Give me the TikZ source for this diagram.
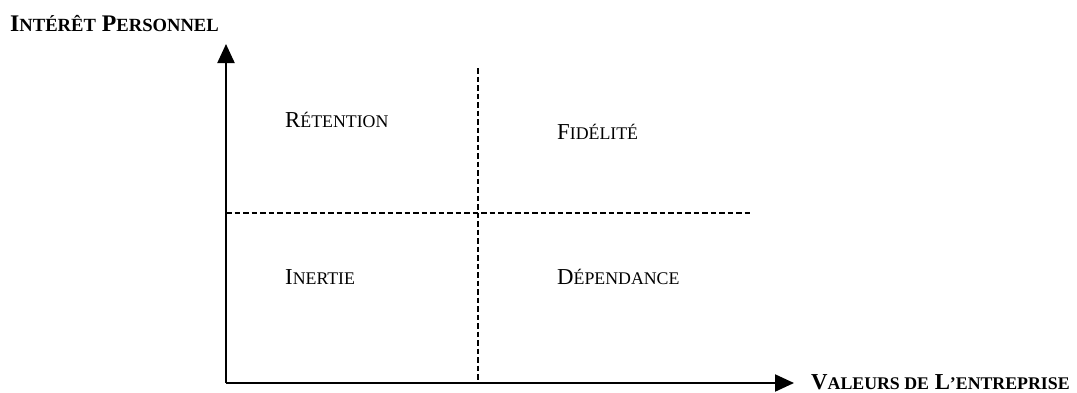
\documentclass[tikz,border=0pt]{standalone}
\usepackage{fontspec}
\setmainfont{Liberation Serif}
\usetikzlibrary{arrows.meta}
\newcommand\smc[1]{{\fontsize{17.8}{20}\selectfont #1}}
\newcommand\smcb[1]{{\fontsize{18.6}{20}\selectfont #1}}
\tikzset{
  axis/.style={line width=2.2pt,-{Triangle[length=19pt,width=17pt]}},
  divider/.style={line width=1.8pt,dash pattern=on 5.5pt off 3pt},
  quad/.style={anchor=base west,inner sep=0pt,font=\fontsize{22.8}{26}\selectfont},
  axlabel/.style={anchor=base west,inner sep=0pt,font=\fontsize{22.8}{26}\selectfont\bfseries}
}
\begin{document}
\begin{tikzpicture}[x=1pt,y=-1pt]
\useasboundingbox (0,0) rectangle (1077,392);
\coordinate (O) at (226,383);
\coordinate (ytip) at (226,44);
\coordinate (xtip) at (794,383);
\coordinate (vtop) at (478,68);
\coordinate (vbot) at (478,383);
\coordinate (hl) at (226,213);
\coordinate (hr) at (752,213);
\draw[divider] (vtop) -- (vbot);
\draw[divider] (hl) -- (hr);
\draw[axis] (O) -- (ytip);
\draw[axis] (O) -- (xtip);
\node[axlabel,font=\fontsize{23.8}{26}\selectfont\bfseries] (ylab) at (10,31) {I\smcb{NTÉRÊT} P\smcb{ERSONNEL}};
\node[axlabel] (xlab) at (811,389) {V\smc{ALEURS DE} L\smc{’ENTREPRISE}};
\node[quad] (ret) at (285,127) {R\smc{ÉTENTION}};
\node[quad] (fid) at (557,139) {F\smc{IDÉLITÉ}};
\node[quad] (ine) at (285,284) {I\smc{NERTIE}};
\node[quad] (dep) at (557,284) {D\smc{ÉPENDANCE}};
\end{tikzpicture}
\end{document}
